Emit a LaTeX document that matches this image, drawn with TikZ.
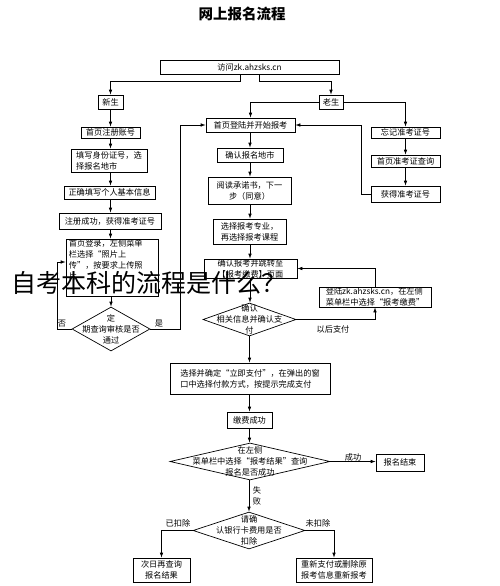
\documentclass[tikz,border=0pt]{standalone}
\usepackage{fontspec}
\newfontfamily\cjk{Noto Sans CJK SC}
\usetikzlibrary{arrows.meta,calc,shapes.geometric}
\begin{document}
\begin{tikzpicture}[x=1pt,y=-1pt,
  bx/.style={draw, line width=0.7pt, inner sep=0pt, font=\cjk\fontsize{8.2pt}{11pt}\selectfont},
  dm/.style={draw, line width=0.7pt, diamond, inner sep=0pt},
  tx/.style={inner sep=0pt, font=\cjk\fontsize{8.2pt}{11pt}\selectfont},
  arr/.style={line width=0.7pt, -{Latex[length=5pt,width=3.6pt]}},
  ln/.style={line width=0.7pt}]
\fill[white] (0,0) rectangle (500,586);
\useasboundingbox (0,0) rectangle (500,586);

% title
\node[font=\cjk\bfseries\fontsize{14.5pt}{16pt}\selectfont] (title) at (242,14) {网上报名流程};

% top
\node[bx, minimum width=179pt, minimum height=14pt] (v) at (249.5,67) {访问zk.ahzsks.cn};
\node[bx, minimum width=25pt, minimum height=14pt] (xs) at (110.5,102) {新生};
\node[bx, minimum width=24pt, minimum height=14pt] (ls) at (331,102) {老生};

% left column
\node[bx, minimum width=59pt, minimum height=11pt] (l1) at (110.5,132.5) {首页注册账号};
\node[bx, minimum width=76pt, minimum height=23pt, align=left] (l2) at (109,160.5) {填写身份证号，选\\择报名地市};
\node[bx, minimum width=91pt, minimum height=13pt] (l3) at (109.5,192.5) {正确填写个人基本信息};
\node[bx, minimum width=102pt, minimum height=16pt] (l4) at (110,221) {注册成功，获得准考证号};
\node[bx, minimum width=92pt, minimum height=57pt] (l5) at (112,267.5) {};
\node[tx, align=left, anchor=north west] (l5t) at ($(l5.north west)+(3,1)$) {首页登录，左侧菜单\\栏选择“照片上\\传”，按要求上传照\\片};
\node[dm, minimum width=78pt, minimum height=44pt] (d1) at (111,329) {};
\node[tx, align=center] (d1t) at (d1) {定\\期查询审核是否\\通过};

% middle column
\node[bx, minimum width=89pt, minimum height=14pt] (m1) at (250.5,125) {首页登陆并开始报考};
\node[bx, minimum width=66pt, minimum height=14pt] (m2) at (250,155) {确认报名地市};
\node[bx, minimum width=83pt, minimum height=27pt, align=center] (m3) at (249.5,190.5) {阅读承诺书，下一\\步（同意）};
\node[bx, minimum width=73pt, minimum height=25pt, align=center] (m4) at (249.5,231.5) {选择报考专业，\\再选择报考课程};
\node[bx, minimum width=93pt, minimum height=19pt, align=left] (m5) at (250.5,268.5) {确认报考并跳转至\\【报考缴费】页面};
\node[dm, minimum width=93pt, minimum height=33pt] (d2) at (249.5,319.5) {};
\node[tx, align=center] (d2t) at (d2) {确认\\相关信息并确认支\\付};
\node[bx, minimum width=160pt, minimum height=31pt, align=left] (m6) at (250,378.5) {选择并确定“立即支付”，在弹出的窗\\口中选择付款方式，按提示完成支付};
\node[bx, minimum width=45pt, minimum height=16pt] (m7) at (249.5,420) {缴费成功};
\node[dm, minimum width=160pt, minimum height=37pt] (d3) at (250,461.5) {};
\node[tx, align=center] (d3t) at (d3) {在左侧\\菜单栏中选择“报考结果”查询\\报名是否成功};
\node[bx, minimum width=48pt, minimum height=17pt] (end) at (400,462.5) {报名结束};
\node[dm, minimum width=112pt, minimum height=37pt] (d4) at (249,530.5) {};
\node[tx, align=center] (d4t) at (d4) {请确\\认银行卡费用是否\\扣除};
\node[bx, minimum width=57pt, minimum height=24pt, align=center] (b1) at (161.5,570) {次日再查询\\报名结果};
\node[bx, minimum width=76pt, minimum height=24pt, align=center] (b2) at (334,570) {重新支付或删除原\\报考信息重新报考};

% right column
\node[bx, minimum width=69pt, minimum height=11pt] (r1) at (405.5,132.5) {忘记准考证号};
\node[bx, minimum width=69pt, minimum height=12pt] (r2) at (405.5,161) {首页准考证查询};
\node[bx, minimum width=69pt, minimum height=16pt] (r3) at (405.5,194) {获得准考证号};
\node[bx, minimum width=112pt, minimum height=20pt, align=left] (later) at (375,297) {登陆zk.ahzsks.cn，在左侧\\菜单栏中选择“报考缴费”};

% connectors
\draw[arr] ([xshift=-9.5pt]v.south) -- ++(0,7) -| (xs.north);
\draw[arr] ([xshift=9.5pt]v.south) -- ++(0,7) -| (ls.north);
\draw[arr] (ls.west) -| (m1.north);
\draw[arr] (ls.east) -| (r1.north);

\draw[arr] (xs.south) -- (xs.south |- l1.north);
\draw[arr] (l1.south) -- (l1.south |- l2.north);
\draw[arr] (l2.south -| l1.south) -- (l1.south |- l3.north);
\draw[arr] (l3.south -| l1.south) -- (l1.south |- l4.north);
\draw[arr] (l4.south -| l1.south) -- (l1.south |- l5.north);
\draw[arr] (l5.south -| d1.north) -- (d1.north);
\draw[arr] (d1.east) -- ++(30,0) |- (m1.west);
\draw[arr] (d1.west) -- ++(-14,0) |- ([yshift=5.5pt]l5.west);
\node[tx] (yes) at (159,323.5) {是};
\node[tx] (no) at (62,323.5) {否};

\draw[arr] (m1.south -| m2.north) -- (m2.north);
\draw[arr] (m2.south) -- (m2.south |- m3.north);
\draw[arr] (m3.south -| m2.south) -- (m2.south |- m4.north);
\draw[arr] (m4.south -| m2.south) -- (m2.south |- m5.north);
\draw[arr] (m5.south -| m2.south) -- (m2.south |- d2.north);
\draw[arr] (d2.east) -| (later.south);
\node[tx] (lbl1) at (333,329) {以后支付};
\draw[arr] (later.north) |- (m5.east);
\draw[arr] (d2.south) -- (d2.south |- m6.north);
\draw[arr] (m6.south -| d2.south) -- (d2.south |- m7.north);
\draw[arr] (m7.south) -- (m7.south |- d3.north);
\draw[arr] (d3.east) -- (d3.east -| end.west);
\node[tx] (lbl2) at (353,457) {成功};
\draw[arr] (d3.south -| d4.north) -- (d4.north);
\node[tx, align=center] (lbl3) at (257,496) {失\\败};
\draw[arr] (d4.west) -| (b1.north);
\node[tx] (lbl4) at (178,523) {已扣除};
\draw[arr] (d4.east) -| (b2.north);
\node[tx] (lbl5) at (318,523) {未扣除};

\draw[arr] (r1.south) -- (r1.south |- r2.north);
\draw[arr] (r2.south) -- (r2.south |- r3.north);
\draw[arr] (r3.west) -- ++(-9,0) |- (m1.east);

% overlay caption
\node[font=\cjk\fontsize{25pt}{28pt}\selectfont, inner sep=0pt] (cap) at (149,283) {自考本科的流程是什么？};
\end{tikzpicture}
\end{document}
